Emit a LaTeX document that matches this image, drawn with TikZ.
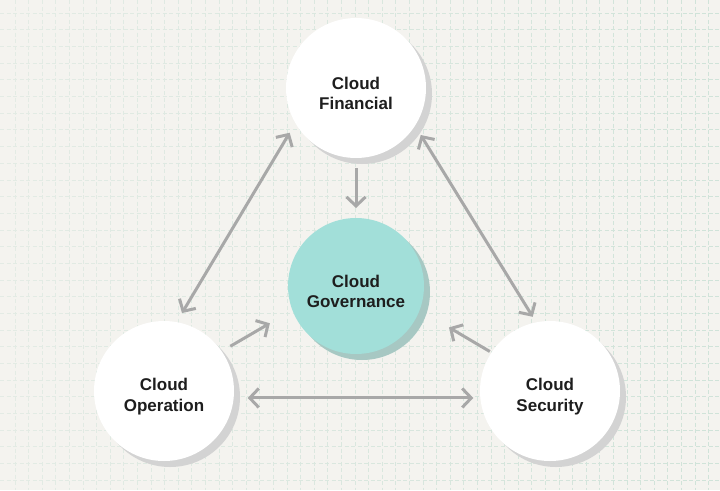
\documentclass[tikz,border=0pt]{standalone}
\usepackage{fontspec}
\setmainfont{Liberation Sans}
\usetikzlibrary{arrows.meta,shadows,fadings}

\definecolor{bgc}{HTML}{F4F3EF}
\definecolor{gridc}{HTML}{D0E3D9}
\definecolor{shd}{HTML}{D3D3D3}
\definecolor{tealc}{HTML}{A2DFD9}
\definecolor{tealshd}{HTML}{A7C8C3}
\definecolor{arr}{HTML}{A8A8A8}
\definecolor{txt}{HTML}{1E1E1E}

\tikzfading[name=gridfade, left color=transparent!45, right color=transparent!100]

\begin{document}
\begin{tikzpicture}[x=1pt,y=-1pt,
    disc/.style={circle,inner sep=0pt,outer sep=10pt,align=center,text=txt,
      text height=44pt,font=\bfseries\fontsize{17}{20.5}\selectfont},
    pillar/.style={disc,fill=white,minimum size=140pt,
      drop shadow={shadow xshift=6pt,shadow yshift=-6pt,fill=shd,opacity=1}},
    core/.style={disc,fill=tealc,minimum size=136pt,
      drop shadow={shadow xshift=6pt,shadow yshift=-6pt,fill=tealshd,opacity=1}},
    gridline/.style={gridc,line width=1pt,dash pattern=on 4pt off 2.5pt},
    link/.style={draw=arr,line width=3pt,
      {Straight Barb[length=9pt,width=19pt]}-{Straight Barb[length=9pt,width=19pt]}},
    feed/.style={draw=arr,line width=3pt,-{Straight Barb[length=9pt,width=19pt]}}]
    \useasboundingbox[fill=bgc] (0,0) rectangle (720,490);
    % background grid
    \foreach \x in {0,...,51}
    \draw[gridline] ({15+\x*13.6},0) -- +(0,490);
    \foreach \y in {0,...,28}
    \draw[gridline] (0,{13.3+\y*16.67}) -- +(720,0);
    \fill[bgc,path fading=gridfade] (0,0) rectangle (720,490);
    % pillars
    \node[pillar] (fin) at (356,88)  {Cloud\\Financial};
    \node[core]   (gov) at (356,286) {Cloud\\Governance};
    \node[pillar] (op)  at (164,391) {Cloud\\Operation};
    \node[pillar] (sec) at (550,391) {Cloud\\Security};
    % connectors
    \draw[link] (fin.214) -- (op.77);
    \draw[link,shorten >=-4pt] (fin.324) -- (sec.104);
    \draw[link,shorten <=4pt,shorten >=-3pt] (op.-5) -- (sec.185);
    \draw[feed] (fin.south) -- (gov.north);
    \draw[feed,shorten >=16pt] (op.34) -- (gov.202);
    \draw[feed,shorten <=-8pt,shorten >=24pt] (sec.147) -- (gov.338);
\end{tikzpicture}
\end{document}
